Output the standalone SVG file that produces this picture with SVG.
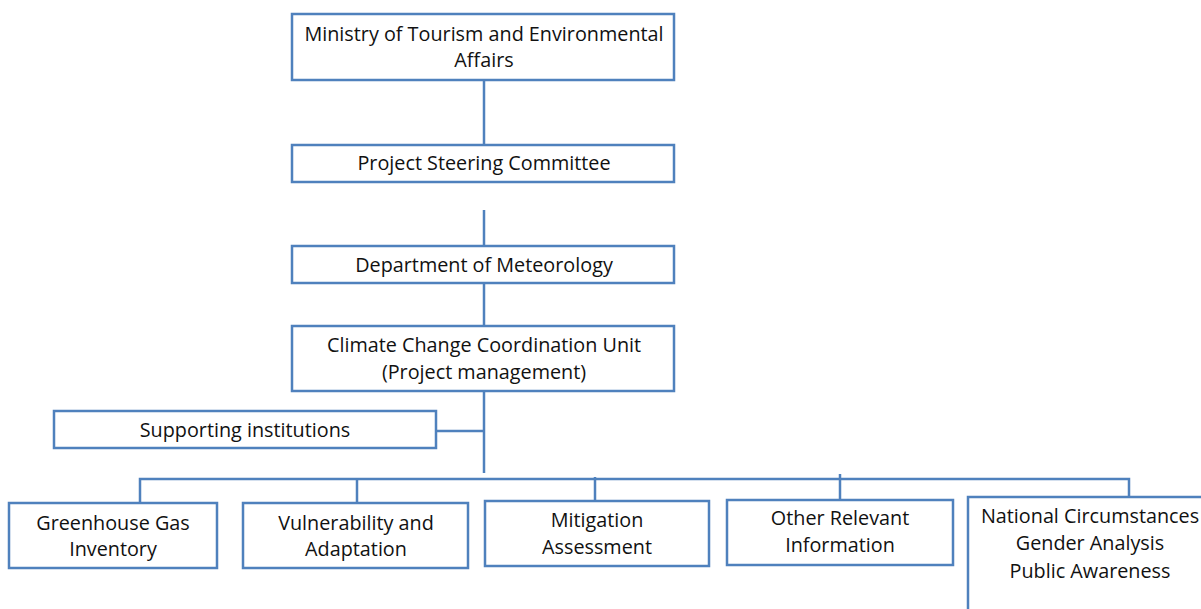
<svg xmlns="http://www.w3.org/2000/svg" width="1201" height="609" viewBox="0 0 1201 609">
<style>
.box{fill:#fff;stroke:#4F81BD;stroke-width:2.5}
.ln{fill:none;stroke:#4F81BD;stroke-width:2.5}
text{font-family:"Open Sans","Liberation Sans",sans-serif;font-size:19.8px;fill:#111;text-anchor:middle;dominant-baseline:central}
</style>
<rect width="1201" height="609" fill="#fff"/>
<g id="connectors">
<path class="ln" d="M484 80V145"/>
<path class="ln" d="M484 210V246"/>
<path class="ln" d="M484 283V326"/>
<path class="ln" d="M484 392V473"/>
<path class="ln" d="M436 431H484"/>
<path class="ln" d="M140 503V479H1129V497"/>
<path class="ln" d="M357 479V503"/>
<path class="ln" d="M595 477V501"/>
<path class="ln" d="M840 474V500"/>
</g>
<g id="ministry"><rect class="box" x="292" y="14" width="382" height="66"/><text x="484" y="33">Ministry of Tourism and Environmental</text><text x="484" y="59">Affairs</text></g>
<g id="steering"><rect class="box" x="292" y="145" width="382" height="37"/><text x="484" y="162">Project Steering Committee</text></g>
<g id="meteorology"><rect class="box" x="292" y="246" width="382" height="37"/><text x="484" y="264">Department of Meteorology</text></g>
<g id="ccu"><rect class="box" x="292" y="326" width="382" height="65"/><text x="484" y="344">Climate Change Coordination Unit</text><text x="484" y="371">(Project management)</text></g>
<g id="supporting"><rect class="box" x="54" y="411" width="382" height="37"/><text x="245" y="429">Supporting institutions</text></g>
<g id="ghg"><rect class="box" x="9" y="503" width="208" height="65"/><text x="113" y="522">Greenhouse Gas</text><text x="113" y="548">Inventory</text></g>
<g id="va"><rect class="box" x="243" y="503" width="225" height="65"/><text x="356" y="522">Vulnerability and</text><text x="356" y="548">Adaptation</text></g>
<g id="mitigation"><rect class="box" x="485" y="501" width="224" height="65"/><text x="597" y="519">Mitigation</text><text x="597" y="546">Assessment</text></g>
<g id="other"><rect class="box" x="727" y="500" width="226" height="65"/><text x="840" y="517">Other Relevant</text><text x="840" y="544">Information</text></g>
<g id="national"><rect class="box" x="968" y="497" width="260" height="130"/><text x="1090" y="515">National Circumstances</text><text x="1090" y="542">Gender Analysis</text><text x="1090" y="570">Public Awareness</text></g>
</svg>
